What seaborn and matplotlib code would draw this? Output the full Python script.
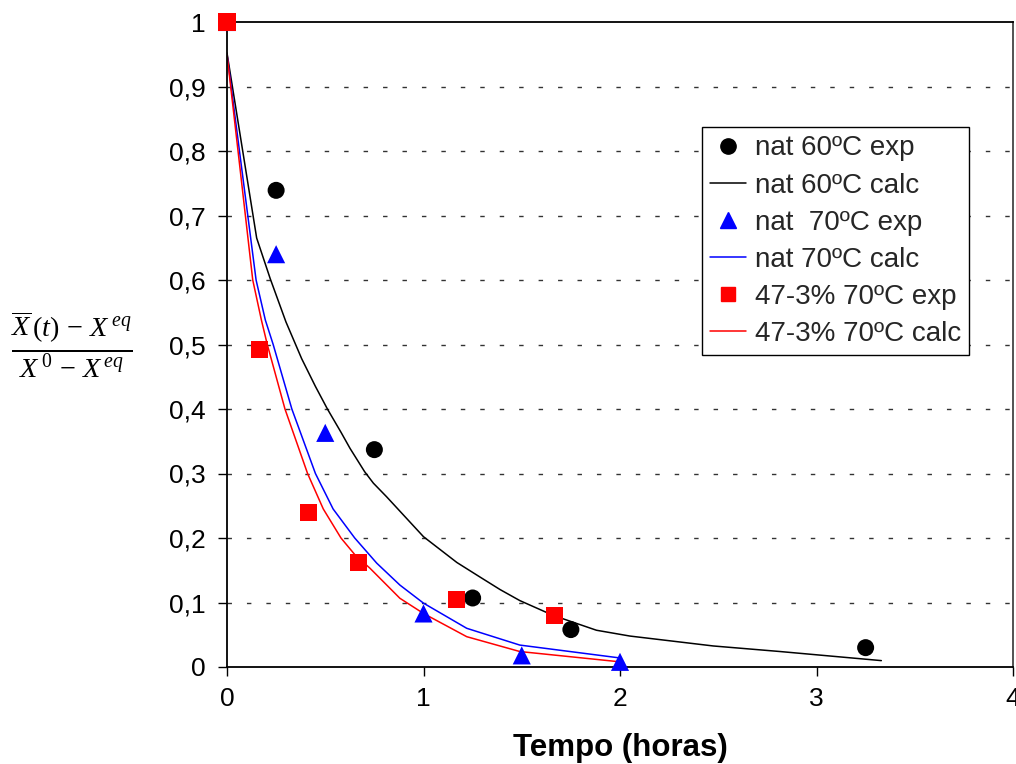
import matplotlib
matplotlib.use("Agg")
import matplotlib.pyplot as plt
import seaborn as sns
from matplotlib.lines import Line2D

# ---- data ----
t60_exp = [0.0, 0.25, 0.75, 1.25, 1.75, 3.25]
y60_exp = [1.0, 0.739, 0.337, 0.107, 0.058, 0.030]

t60_calc = [0.0, 0.151, 0.22, 0.30, 0.38, 0.45, 0.511, 0.58, 0.626, 0.70, 0.745, 0.812,
            1.0, 1.17, 1.29, 1.39, 1.49, 1.66, 1.88, 2.05, 2.475, 2.814, 3.33]
y60_calc = [0.952, 0.665, 0.602, 0.535, 0.478, 0.435, 0.400, 0.364, 0.339, 0.303, 0.285, 0.264,
            0.202, 0.162, 0.139, 0.120, 0.103, 0.080, 0.057, 0.048, 0.0326, 0.024, 0.0099]

t70_exp = [0.0, 0.25, 0.5, 1.0, 1.5, 2.0]
y70_exp = [1.0, 0.640, 0.363, 0.083, 0.018, 0.008]

t70_calc = [0.0, 0.148, 0.195, 0.235, 0.33, 0.45, 0.54, 0.65, 0.762, 0.88, 1.0, 1.22, 1.49, 2.0]
y70_calc = [0.950, 0.600, 0.538, 0.500, 0.400, 0.300, 0.245, 0.200, 0.161, 0.127, 0.099, 0.060, 0.034, 0.014]

t47_exp = [0.0, 0.167, 0.417, 0.667, 1.167, 1.667]
y47_exp = [1.0, 0.493, 0.240, 0.162, 0.104, 0.080]

t47_calc = [0.0, 0.131, 0.175, 0.205, 0.295, 0.41, 0.49, 0.58, 0.651, 0.728, 0.88, 1.0, 1.22, 1.49, 2.0]
y47_calc = [0.950, 0.600, 0.538, 0.500, 0.400, 0.300, 0.245, 0.200, 0.174, 0.153, 0.1065, 0.083, 0.047, 0.024, 0.008]

labels = ["nat 60ºC exp", "nat 60ºC calc", "nat  70ºC exp", "nat 70ºC calc",
          "47-3% 70ºC exp", "47-3% 70ºC calc"]
yticks = [0, 0.1, 0.2, 0.3, 0.4, 0.5, 0.6, 0.7, 0.8, 0.9, 1.0]
ytick_labels = ["0", "0,1", "0,2", "0,3", "0,4", "0,5", "0,6", "0,7", "0,8", "0,9", "1"]
xticks = [0, 1, 2, 3, 4]
xtick_labels = ["0", "1", "2", "3", "4"]

sns.set_theme(style="white")
plt.rcParams['font.family'] = ['Liberation Sans', 'DejaVu Sans']
plt.rcParams['mathtext.fontset'] = 'custom'
plt.rcParams['mathtext.rm'] = 'Liberation Serif'
plt.rcParams['mathtext.it'] = 'Liberation Serif:italic'
plt.rcParams['mathtext.bf'] = 'Liberation Serif:bold'
plt.rcParams['lines.scale_dashes'] = False

fig = plt.figure(figsize=(10.16, 7.64), dpi=100)
ax = fig.add_axes([227/1016, 1-667/764, (1013-227)/1016, (667-22)/764])

for yv in yticks[1:-1]:
    ax.axhline(yv, color="#333333", lw=1.0, dashes=(3.2, 10.8), zorder=0.5)

lw = 1.1
sns.lineplot(x=t60_calc, y=y60_calc, ax=ax, color="black", lw=lw, sort=False, estimator=None, label=labels[1])
sns.lineplot(x=t70_calc, y=y70_calc, ax=ax, color="#0000ff", lw=lw, sort=False, estimator=None, label=labels[3])
sns.lineplot(x=t47_calc, y=y47_calc, ax=ax, color="#ff0000", lw=lw, sort=False, estimator=None, label=labels[5])
sns.scatterplot(x=t60_exp, y=y60_exp, ax=ax, color="black", marker="o", s=150, edgecolor="none", label=labels[0], clip_on=False, zorder=3)
sns.scatterplot(x=t70_exp, y=y70_exp, ax=ax, color="#0000ff", marker="^", s=170, edgecolor="none", label=labels[2], clip_on=False, zorder=3)
sns.scatterplot(x=t47_exp, y=y47_exp, ax=ax, color="#ff0000", marker="s", s=150, edgecolor="none", label=labels[4], clip_on=False, zorder=4)

ax.set_xlim(0, 4)
ax.set_ylim(0, 1)
ax.set_xticks(xticks)
ax.set_xticklabels(xtick_labels)
ax.set_yticks(yticks)
ax.set_yticklabels(ytick_labels)
ax.tick_params(axis="both", direction="out", length=6.5, width=1, color="black",
               labelsize=19, labelcolor="black", left=True, bottom=True)
ax.tick_params(axis="x", pad=8)
ax.tick_params(axis="y", pad=9)
for side in ["left", "bottom", "top"]:
    ax.spines[side].set_color("black")
    ax.spines[side].set_linewidth(1.3)
ax.spines["right"].set_color("#444444")
ax.spines["right"].set_linewidth(1.3)
ax.set_xlabel("")
ax.set_ylabel("")

handles = [
    Line2D([], [], ls="none", marker="o", color="black", markersize=11),
    Line2D([], [], color="black", lw=lw),
    Line2D([], [], ls="none", marker="^", color="#0000ff", markersize=11),
    Line2D([], [], color="#0000ff", lw=lw),
    Line2D([], [], ls="none", marker="s", color="#ff0000", markersize=10),
    Line2D([], [], color="#ff0000", lw=lw),
]
leg = ax.legend(handles, labels, loc="upper left", bbox_to_anchor=(0.604, 0.837),
                borderaxespad=0, fontsize=20, frameon=True, fancybox=False,
                edgecolor="black", framealpha=1, handlelength=1.3,
                handletextpad=0.3, labelspacing=0.4, borderpad=0.3)
leg.get_frame().set_linewidth(1.0)

fig.text(620/1016, 1-748/764, "Tempo (horas)", ha="center", va="center",
         fontsize=22.5, fontweight="bold", color="black")
fig.text(72/1016, 1-345/764, r"$\frac{\overline{X}\,(t)\,-\,X^{\,eq}}{X^{\,0}\,-\,X^{\,eq}}$",
         ha="center", va="center", fontsize=29, color="black")

fig.savefig("out.png", dpi=100)
